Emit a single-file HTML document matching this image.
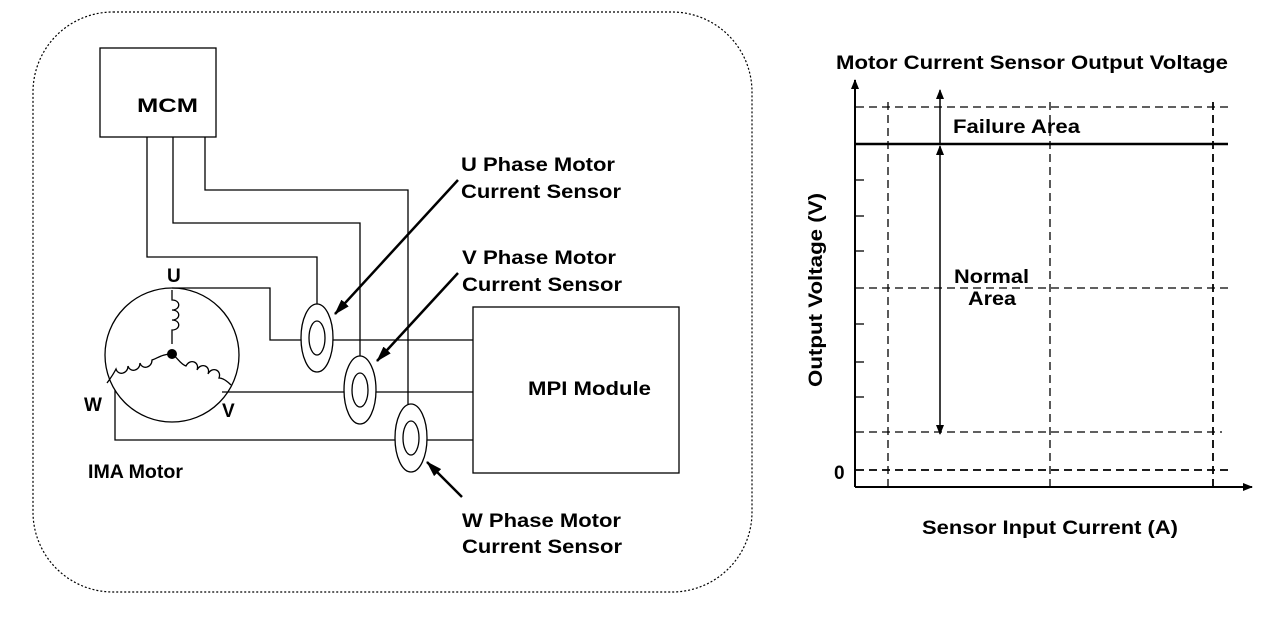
<!DOCTYPE html>
<html><head><style>
html,body{margin:0;padding:0;background:#fff;}
svg text{font-family:"Liberation Sans",Arial,sans-serif;font-weight:bold;font-size:19px;fill:#000;}
</style></head><body>
<svg width="1280" height="614" viewBox="0 0 1280 614" xmlns="http://www.w3.org/2000/svg">
<defs>
<marker id="ah" markerWidth="10" markerHeight="8" refX="9" refY="4" orient="auto" markerUnits="userSpaceOnUse">
<path d="M0,0 L10,4 L0,8 z" fill="#000"/></marker>
<marker id="ah2" markerWidth="16" markerHeight="10" refX="15" refY="5" orient="auto" markerUnits="userSpaceOnUse">
<path d="M0,0 L16,5 L0,10 z" fill="#000"/></marker>
</defs>
<rect x="33" y="12" width="719" height="580" rx="80" fill="none" stroke="#000" stroke-width="1.2" stroke-dasharray="2,2"/>
<g fill="none" stroke="#000" stroke-width="1.3">
<rect x="100" y="48" width="116" height="89"/>
<rect x="473" y="307" width="206" height="166"/>
<circle cx="172" cy="355" r="67"/>
<polyline points="147,137 147,257 317,257 317,304"/>
<polyline points="173,137 173,223 360,223 360,356"/>
<polyline points="205,137 205,190 408,190 408,404"/>
<polyline points="172,288 270,288 270,340 473,340"/>
<polyline points="222,392 473,392"/>
<polyline points="115,390 115,440 473,440"/>
<ellipse cx="317" cy="338" rx="16" ry="34" fill="#fff"/>
<ellipse cx="317" cy="338" rx="8" ry="17"/>
<ellipse cx="360" cy="390" rx="16" ry="34" fill="#fff"/>
<ellipse cx="360" cy="390" rx="8" ry="17"/>
<ellipse cx="411" cy="438" rx="16" ry="34" fill="#fff"/>
<ellipse cx="411" cy="438" rx="8" ry="17"/>
<path d="M172,290 v10 c9,0 9,10 0,10 c9,0 9,10 0,10 c9,0 9,10 0,10 v14"/>
<path d="M172,354 c-10,0 -14,4 -20,6 c0,8 -10,10 -12,3 c0,8 -10,10 -12,3 c0,8 -10,10 -12,3 c-3,6 -6,10 -9,14"/>
<path d="M172,354 c6,4 8,10 14,12 c4,-8 14,-4 11,4 c4,-8 14,-4 11,4 c4,-8 14,-4 11,4 c4,0 8,3 12,7"/>
</g>
<circle cx="172" cy="354" r="5" fill="#000"/>
<g stroke="#000" stroke-width="2.5" fill="none">
<line x1="458" y1="180" x2="335" y2="314" marker-end="url(#ah2)"/>
<line x1="458" y1="273" x2="377" y2="361" marker-end="url(#ah2)"/>
<line x1="462" y1="497" x2="427" y2="462" marker-end="url(#ah2)"/>
</g>
<text x="137" y="112" textLength="61" lengthAdjust="spacingAndGlyphs">MCM</text>
<text x="528" y="395" textLength="123" lengthAdjust="spacingAndGlyphs">MPI Module</text>
<text x="167" y="282">U</text>
<text x="84" y="411">W</text>
<text x="222" y="417">V</text>
<text x="88" y="478" textLength="95" lengthAdjust="spacingAndGlyphs">IMA Motor</text>
<text x="461" y="171" textLength="154" lengthAdjust="spacingAndGlyphs">U Phase Motor</text>
<text x="461" y="198" textLength="160" lengthAdjust="spacingAndGlyphs">Current Sensor</text>
<text x="462" y="264" textLength="154" lengthAdjust="spacingAndGlyphs">V Phase Motor</text>
<text x="462" y="291" textLength="160" lengthAdjust="spacingAndGlyphs">Current Sensor</text>
<text x="462" y="527" textLength="159" lengthAdjust="spacingAndGlyphs">W Phase Motor</text>
<text x="462" y="553" textLength="160" lengthAdjust="spacingAndGlyphs">Current Sensor</text>
<g stroke="#000" fill="none">
<line x1="855" y1="487" x2="855" y2="80" stroke-width="2" marker-end="url(#ah)"/>
<line x1="855" y1="487" x2="1252" y2="487" stroke-width="2" marker-end="url(#ah)"/>
<line x1="855" y1="144" x2="1228" y2="144" stroke-width="2.5"/>
<g stroke-width="1.3" stroke-dasharray="8,5">
<line x1="856" y1="107" x2="1228" y2="107"/>
<line x1="856" y1="288" x2="1228" y2="288"/>
<line x1="856" y1="432" x2="1222" y2="432"/>
<line x1="856" y1="470" x2="1228" y2="470" stroke-width="1.8"/>
<line x1="888" y1="102" x2="888" y2="487"/>
<line x1="1050" y1="102" x2="1050" y2="487"/>
<line x1="1213" y1="102" x2="1213" y2="487" stroke-width="1.8"/>
</g>
<g stroke-width="1.3">
<line x1="855" y1="180" x2="864" y2="180"/><line x1="855" y1="216" x2="864" y2="216"/>
<line x1="855" y1="251" x2="864" y2="251"/><line x1="855" y1="324" x2="864" y2="324"/>
<line x1="855" y1="362" x2="864" y2="362"/><line x1="855" y1="397" x2="864" y2="397"/>
</g>
<line x1="940" y1="144" x2="940" y2="90" stroke-width="1.5" marker-end="url(#ah)"/>
<line x1="940" y1="250" x2="940" y2="146" stroke-width="1.5" marker-end="url(#ah)"/>
<line x1="940" y1="250" x2="940" y2="434" stroke-width="1.5" marker-end="url(#ah)"/>
</g>
<text x="836" y="69" textLength="392" lengthAdjust="spacingAndGlyphs">Motor Current Sensor Output Voltage</text>
<text x="953" y="133" textLength="127" lengthAdjust="spacingAndGlyphs">Failure Area</text>
<text x="954" y="283" textLength="75" lengthAdjust="spacingAndGlyphs">Normal</text>
<text x="968" y="305" textLength="48" lengthAdjust="spacingAndGlyphs">Area</text>
<text x="834" y="479">0</text>
<text x="922" y="534" textLength="256" lengthAdjust="spacingAndGlyphs">Sensor Input Current (A)</text>
<text transform="translate(822,387) rotate(-90)" textLength="194" lengthAdjust="spacingAndGlyphs">Output Voltage (V)</text>
</svg>
</body></html>
